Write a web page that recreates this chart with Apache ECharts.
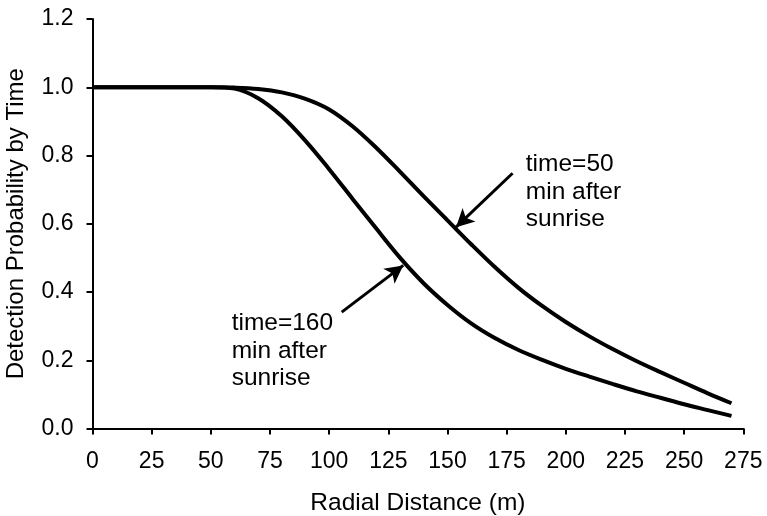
<!DOCTYPE html>
<html>
<head>
<meta charset="utf-8">
<script src="https://cdn.jsdelivr.net/npm/echarts@6/dist/echarts.min.js"></script>
<style>
html,body{margin:0;padding:0;background:#fff;}
#chart{width:767px;height:516px;}
</style>
</head>
<body>
<div id="chart"></div>
<script>
// Radial distance (m)
const distances = [0,10,20,30,40,50,60,70,80,90,100,110,120,130,140,150,160,170,180,190,200,210,220,230,240,250,260,270];
// Detection probability, time = 50 min after sunrise
const prob50 = [1.0,1.0,1.0,1.0,1.0,1.0,0.999,0.995,0.985,0.966,0.935,0.885,0.822,0.752,0.68,0.61,0.54,0.473,0.412,0.359,0.312,0.27,0.232,0.197,0.165,0.134,0.103,0.074];
// Detection probability, time = 160 min after sunrise
const prob160 = [1.0,1.0,1.0,1.0,1.0,1.0,0.996,0.968,0.915,0.843,0.76,0.672,0.585,0.5,0.425,0.362,0.308,0.265,0.23,0.201,0.175,0.152,0.13,0.109,0.09,0.071,0.054,0.037];

const xTicks = [0,25,50,75,100,125,150,175,200,225,250,275];
const yTicks = [0.0,0.2,0.4,0.6,0.8,1.0,1.2];

// annotations: data anchors and text lines
const note50Lines = ['time=50','min after','sunrise'];
const note50Anchor = [183.1, 0.774];
const note160Lines = ['time=160','min after','sunrise'];
const note160Anchor = [58.8, 0.307];
const lineStep = 0.0804; // data units between text lines
const arrow50 = [[177.5, 0.748],[153.6, 0.59]];
const arrow160 = [[105.3, 0.341],[131.3, 0.478]];

const FONT = 'Liberation Sans, Arial, Helvetica, sans-serif';
const chart = echarts.init(document.getElementById('chart'));

function pairs(xs, ys){ return xs.map((x,i)=>[x, ys[i]]); }

const option = {
  animation:false,
  backgroundColor:'#fff',
  grid:{left:92.5, right:23.7, top:19, bottom:87.5, containLabel:false, outerBoundsMode:'none'},
  xAxis:{
    type:'value', min:xTicks[0], max:xTicks[xTicks.length-1], interval:25,
    name:'Radial Distance (m)', nameLocation:'middle', nameGap:62,
    nameTextStyle:{color:'#000', fontSize:24.5, fontFamily:FONT},
    axisLine:{show:true, onZero:false, lineStyle:{color:'#000', width:2}},
    axisTick:{show:true, length:6, lineStyle:{color:'#000', width:2}},
    axisLabel:{color:'#000', fontSize:23, fontFamily:FONT, margin:22, showMinLabel:true, showMaxLabel:true},
    splitLine:{show:false}
  },
  yAxis:{
    type:'value', min:yTicks[0], max:yTicks[yTicks.length-1], interval:0.2,
    name:'Detection Probability by Time', nameLocation:'middle', nameGap:64,
    nameTextStyle:{color:'#000', fontSize:24, fontFamily:FONT},
    axisLine:{show:true, onZero:false, lineStyle:{color:'#000', width:2}},
    axisTick:{show:true, length:6, lineStyle:{color:'#000', width:2}},
    axisLabel:{color:'#000', fontSize:23, fontFamily:FONT, margin:19, formatter:v=>v.toFixed(1)},
    splitLine:{show:false}
  },
  series:[
    {
      name:'time=50', type:'line', data:pairs(distances, prob50), smooth:0.35,
      symbol:'none', lineStyle:{color:'#000', width:4}, z:3,
      markLine:{
        silent:true, symbol:['none','arrow'], symbolSize:[14,18],
        label:{show:false},
        lineStyle:{color:'#000', width:3, type:'solid'},
        data:[[{coord:arrow50[0]},{coord:arrow50[1]}],[{coord:arrow160[0]},{coord:arrow160[1]}]]
      }
    },
    {
      name:'time=160', type:'line', data:pairs(distances, prob160), smooth:0.35,
      symbol:'none', lineStyle:{color:'#000', width:4}, z:3
    }
  ]
};
chart.setOption(option);

function noteGraphics(lines, anchor){
  return lines.map((t,i)=>{
    const p = chart.convertToPixel({gridIndex:0}, [anchor[0], anchor[1] - i*lineStep]);
    return {type:'text', x:p[0], y:p[1], style:{text:t, fill:'#000', font:'24.5px '+FONT, textAlign:'left', textVerticalAlign:'middle', verticalAlign:'middle'}};
  });
}
chart.setOption({graphic:[...noteGraphics(note50Lines, note50Anchor), ...noteGraphics(note160Lines, note160Anchor)]});
</script>
</body>
</html>
